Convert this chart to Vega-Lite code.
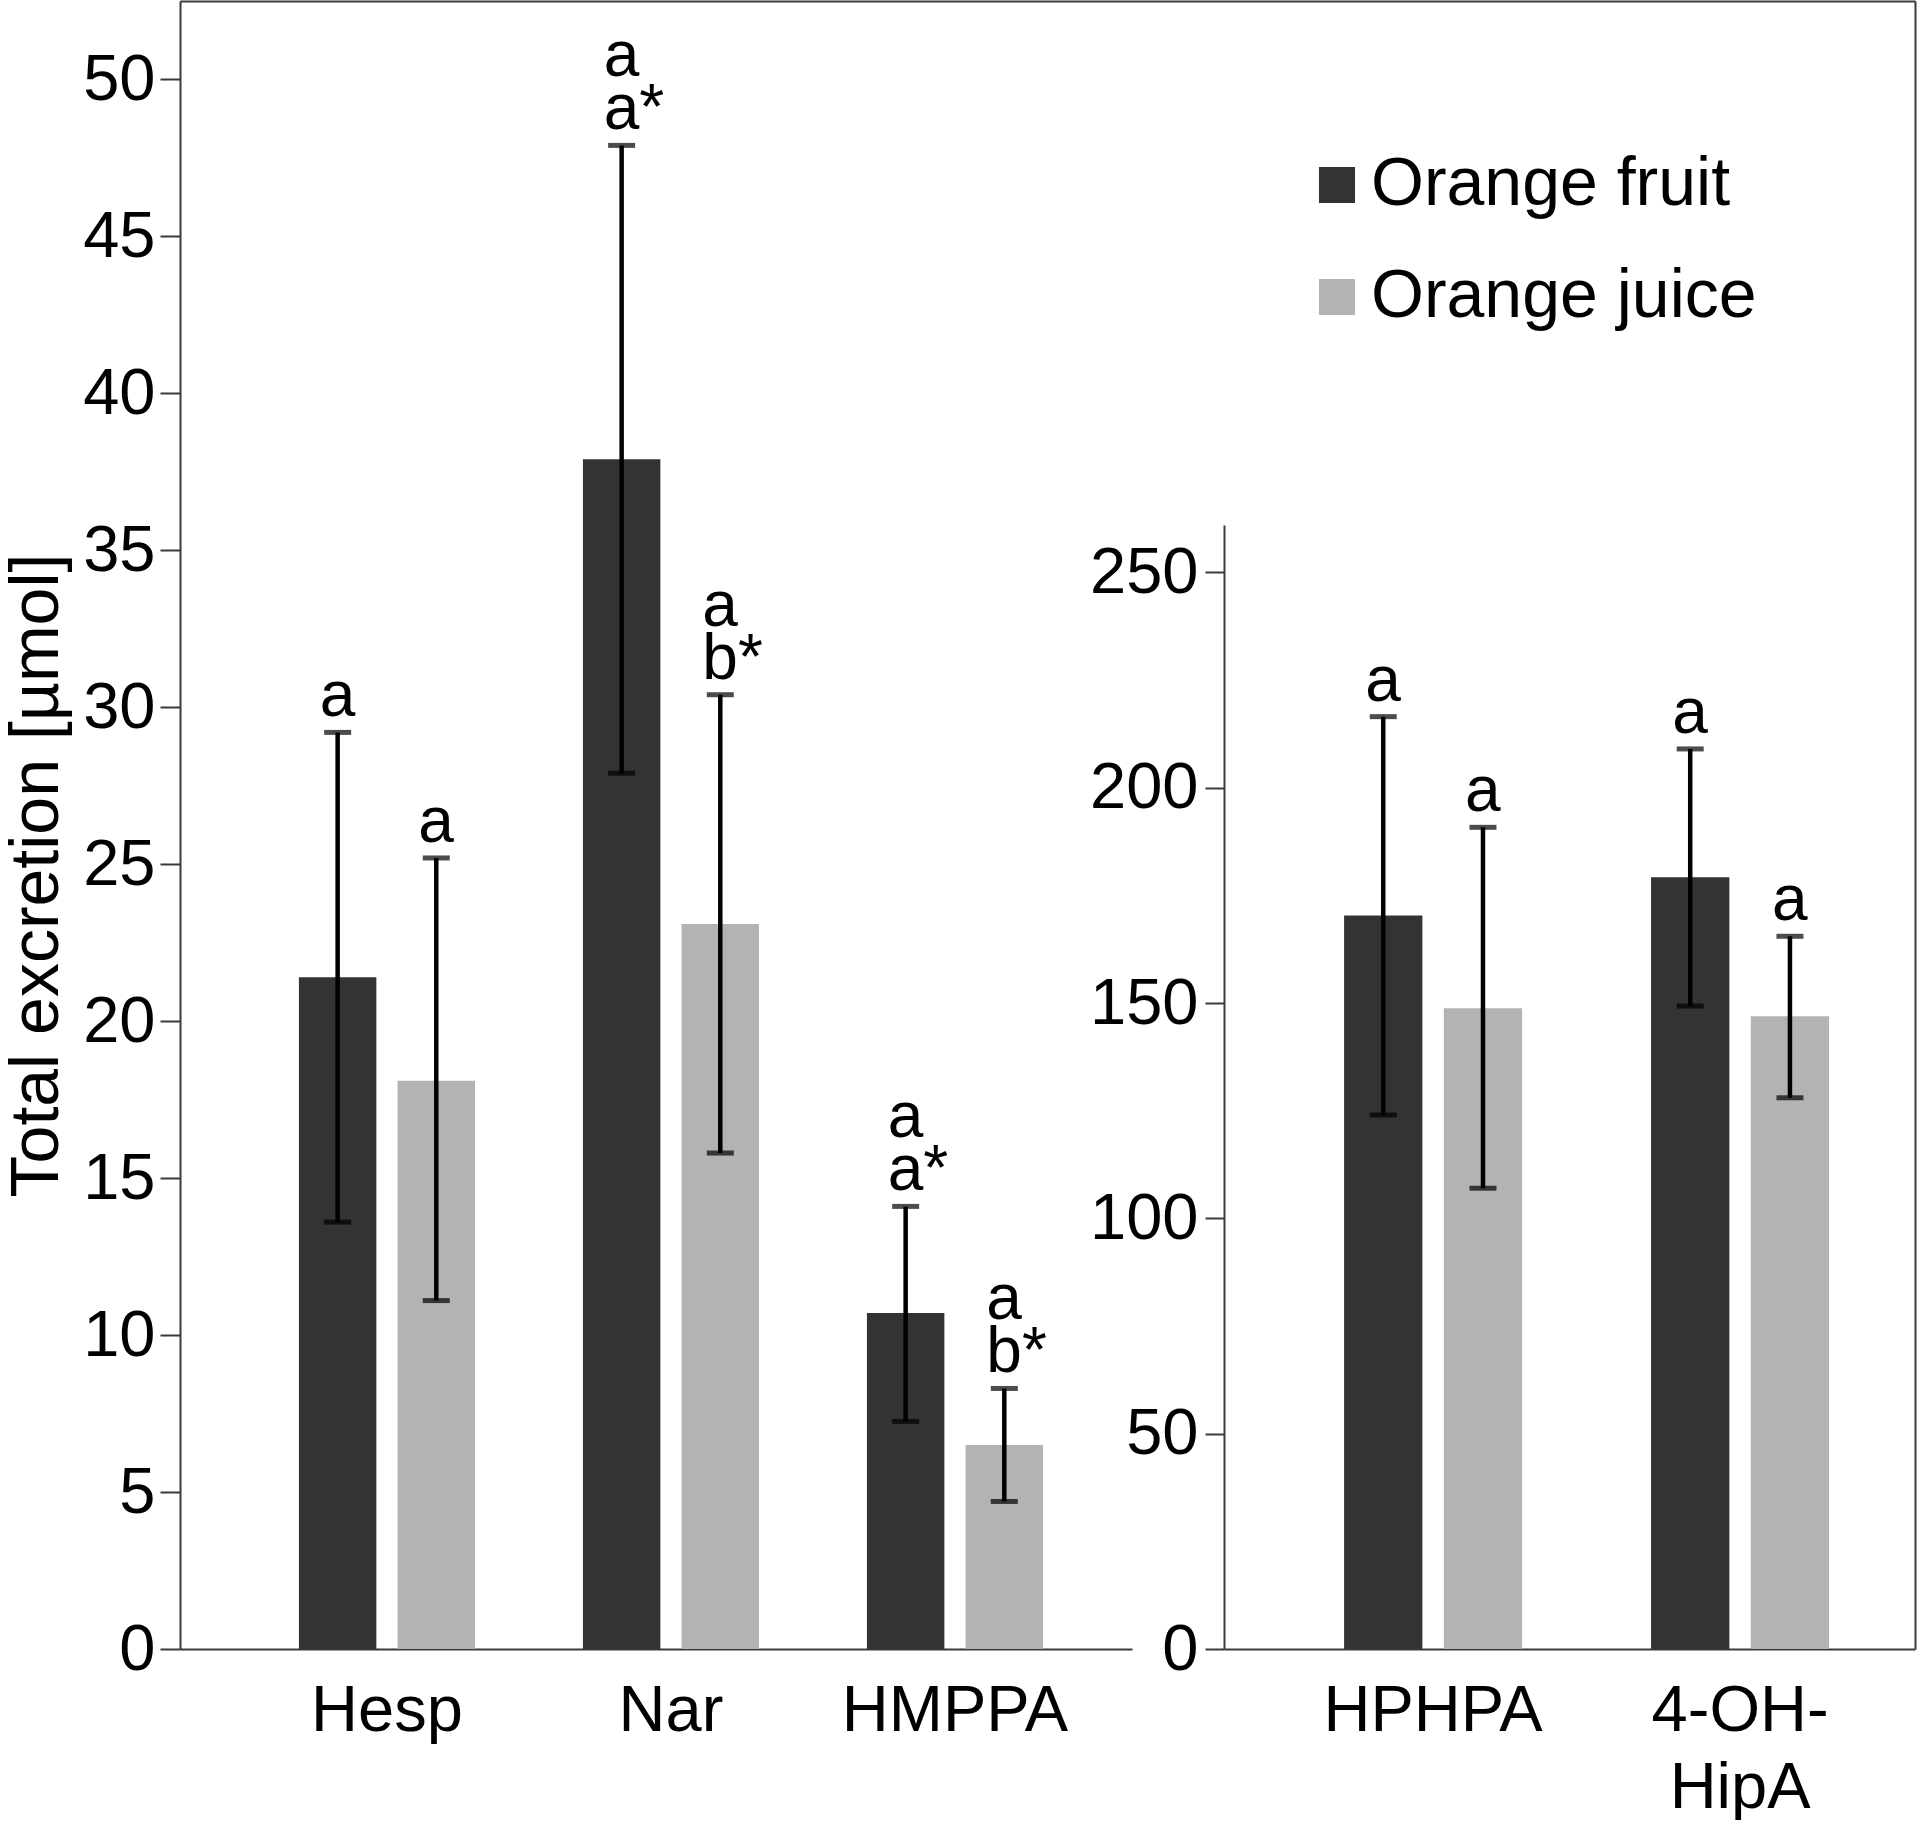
{
  "$schema": "https://vega.github.io/schema/vega-lite/v6.json",
  "width": 1735,
  "height": 1648,
  "padding": {"left": 3, "top": 1, "right": 4, "bottom": 0},
  "background": "white",
  "config": {
    "font": "Liberation Sans",
    "view": {"stroke": null},
    "axis": {"grid": false, "domainColor": "#3a3a3a", "domainWidth": 2, "tickColor": "#3a3a3a", "tickWidth": 2, "labelColor": "black", "titleColor": "black", "labelFont": "Liberation Sans", "titleFont": "Liberation Sans", "labelLimit": 0}
  },
  "data": {
    "values": [
      {"group": "Hesp", "series": "Orange fruit", "value": 21.4, "lo": 13.6, "hi": 29.2, "upper": "", "lower": "a"},
      {"group": "Hesp", "series": "Orange juice", "value": 18.1, "lo": 11.1, "hi": 25.2, "upper": "", "lower": "a"},
      {"group": "Nar", "series": "Orange fruit", "value": 37.9, "lo": 27.9, "hi": 47.9, "upper": "a", "lower": "a*"},
      {"group": "Nar", "series": "Orange juice", "value": 23.1, "lo": 15.8, "hi": 30.4, "upper": "a", "lower": "b*"},
      {"group": "HMPPA", "series": "Orange fruit", "value": 10.7, "lo": 7.25, "hi": 14.1, "upper": "a", "lower": "a*"},
      {"group": "HMPPA", "series": "Orange juice", "value": 6.5, "lo": 4.7, "hi": 8.3, "upper": "a", "lower": "b*"},
      {"group": "HPHPA", "series": "Orange fruit", "value": 170.3, "lo": 124, "hi": 216.5, "upper": "", "lower": "a"},
      {"group": "HPHPA", "series": "Orange juice", "value": 148.8, "lo": 107, "hi": 190.8, "upper": "", "lower": "a"},
      {"group": "4-OH-HipA", "series": "Orange fruit", "value": 179.2, "lo": 149.3, "hi": 209, "upper": "", "lower": "a"},
      {"group": "4-OH-HipA", "series": "Orange juice", "value": 146.9, "lo": 128, "hi": 165.5, "upper": "", "lower": "a"}
    ]
  },
  "layer": [
    {
      "transform": [{"filter": {"field": "group", "oneOf": ["Hesp", "Nar", "HMPPA"]}}],
      "encoding": {
        "x": {
          "field": "group", "type": "nominal", "sort": ["Hesp", "Nar", "HMPPA"],
          "scale": {"range": [0, 952], "paddingInner": 0.38, "paddingOuter": 0.366, "align": 0.572},
          "axis": {"orient": "bottom", "title": null, "ticks": false, "labelAngle": 0, "labelFontSize": 65, "labelPadding": 30}
        },
        "xOffset": {"field": "series", "type": "nominal", "sort": ["Orange fruit", "Orange juice"], "scale": {"paddingInner": 0.215, "paddingOuter": 0}}
      },
      "layer": [
        {
          "mark": {"type": "bar"},
          "encoding": {
            "y": {
              "field": "value", "type": "quantitative",
              "scale": {"domain": [0, 52.5], "nice": false},
              "axis": {"orient": "left", "values": [0, 5, 10, 15, 20, 25, 30, 35, 40, 45, 50], "title": "Total excretion [µmol]", "titleFontSize": 68, "titleFontWeight": "normal", "titlePadding": 11, "titleY": 874, "labelFontSize": 65, "labelPadding": 5, "tickSize": 20}
            },
            "color": {
              "field": "series", "type": "nominal",
              "scale": {"domain": ["Orange fruit", "Orange juice"], "range": ["#333333", "#b3b3b3"]},
              "legend": {"title": null, "orient": "none", "legendX": 1123, "legendY": 150, "symbolType": "square", "symbolSize": 1300, "symbolStrokeWidth": 0, "labelFontSize": 68, "labelOffset": 0, "rowPadding": 44, "padding": 0, "labelColor": "black", "labelLimit": 0}
            }
          }
        },
        {
          "mark": {"type": "rule", "color": "black", "strokeWidth": 4.5},
          "encoding": {
            "y": {"field": "lo", "type": "quantitative", "axis": {"orient": "left", "values": [0, 5, 10, 15, 20, 25, 30, 35, 40, 45, 50], "title": "Total excretion [µmol]", "titleFontSize": 68, "titleFontWeight": "normal", "titlePadding": 11, "titleY": 874, "labelFontSize": 65, "labelPadding": 5, "tickSize": 20}},
            "y2": {"field": "hi"}
          }
        },
        {
          "mark": {"type": "tick", "color": "black", "thickness": 5, "size": 27},
          "encoding": {"y": {"field": "hi", "type": "quantitative", "axis": {"orient": "left", "values": [0, 5, 10, 15, 20, 25, 30, 35, 40, 45, 50], "title": "Total excretion [µmol]", "titleFontSize": 68, "titleFontWeight": "normal", "titlePadding": 11, "titleY": 874, "labelFontSize": 65, "labelPadding": 5, "tickSize": 20}}}
        },
        {
          "mark": {"type": "tick", "color": "black", "thickness": 5, "size": 27},
          "encoding": {"y": {"field": "lo", "type": "quantitative", "axis": {"orient": "left", "values": [0, 5, 10, 15, 20, 25, 30, 35, 40, 45, 50], "title": "Total excretion [µmol]", "titleFontSize": 68, "titleFontWeight": "normal", "titlePadding": 11, "titleY": 874, "labelFontSize": 65, "labelPadding": 5, "tickSize": 20}}}
        },
        {
          "mark": {"type": "text", "align": "left", "baseline": "alphabetic", "dx": -18, "dy": -16, "fontSize": 64, "color": "black"},
          "encoding": {"y": {"field": "hi", "type": "quantitative", "axis": {"orient": "left", "values": [0, 5, 10, 15, 20, 25, 30, 35, 40, 45, 50], "title": "Total excretion [µmol]", "titleFontSize": 68, "titleFontWeight": "normal", "titlePadding": 11, "titleY": 874, "labelFontSize": 65, "labelPadding": 5, "tickSize": 20}}, "text": {"field": "lower"}}
        },
        {
          "mark": {"type": "text", "align": "left", "baseline": "alphabetic", "dx": -18, "dy": -69, "fontSize": 64, "color": "black"},
          "encoding": {"y": {"field": "hi", "type": "quantitative", "axis": {"orient": "left", "values": [0, 5, 10, 15, 20, 25, 30, 35, 40, 45, 50], "title": "Total excretion [µmol]", "titleFontSize": 68, "titleFontWeight": "normal", "titlePadding": 11, "titleY": 874, "labelFontSize": 65, "labelPadding": 5, "tickSize": 20}}, "text": {"field": "upper"}}
        }
      ]
    },
    {
      "transform": [{"filter": {"field": "group", "oneOf": ["HPHPA", "4-OH-HipA"]}}],
      "encoding": {
        "x": {
          "field": "group", "type": "nominal", "sort": ["HPHPA", "4-OH-HipA"],
          "scale": {"range": [1044, 1735], "paddingInner": 0.42, "paddingOuter": 0.3355, "align": 0.583},
          "axis": {"orient": "bottom", "title": null, "ticks": false, "labelAngle": 0, "labelFontSize": 65, "labelPadding": 30, "labelLineHeight": 77, "labelExpr": "datum.label == '4-OH-HipA' ? ['4-OH-', 'HipA'] : datum.label"}
        },
        "xOffset": {"field": "series", "type": "nominal", "sort": ["Orange fruit", "Orange juice"], "scale": {"paddingInner": 0.215, "paddingOuter": 0}}
      },
      "layer": [
        {
          "mark": {"type": "bar"},
          "encoding": {
            "y": {
              "field": "value", "type": "quantitative",
              "scale": {"domain": [0, 261], "nice": false, "range": [1648, 524]},
              "axis": {"orient": "left", "offset": -1044, "values": [0, 50, 100, 150, 200, 250], "title": null, "labelFontSize": 65, "labelPadding": 7, "tickSize": 19}
            },
            "color": {"field": "series", "type": "nominal", "scale": {"domain": ["Orange fruit", "Orange juice"], "range": ["#333333", "#b3b3b3"]}}
          }
        },
        {
          "mark": {"type": "rule", "color": "black", "strokeWidth": 4.5},
          "encoding": {
            "y": {"field": "lo", "type": "quantitative", "axis": {"orient": "left", "offset": -1044, "values": [0, 50, 100, 150, 200, 250], "title": null, "labelFontSize": 65, "labelPadding": 7, "tickSize": 19}},
            "y2": {"field": "hi"}
          }
        },
        {
          "mark": {"type": "tick", "color": "black", "thickness": 5, "size": 27},
          "encoding": {"y": {"field": "hi", "type": "quantitative", "axis": {"orient": "left", "offset": -1044, "values": [0, 50, 100, 150, 200, 250], "title": null, "labelFontSize": 65, "labelPadding": 7, "tickSize": 19}}}
        },
        {
          "mark": {"type": "tick", "color": "black", "thickness": 5, "size": 27},
          "encoding": {"y": {"field": "lo", "type": "quantitative", "axis": {"orient": "left", "offset": -1044, "values": [0, 50, 100, 150, 200, 250], "title": null, "labelFontSize": 65, "labelPadding": 7, "tickSize": 19}}}
        },
        {
          "mark": {"type": "text", "align": "left", "baseline": "alphabetic", "dx": -18, "dy": -16, "fontSize": 64, "color": "black"},
          "encoding": {"y": {"field": "hi", "type": "quantitative", "axis": {"orient": "left", "offset": -1044, "values": [0, 50, 100, 150, 200, 250], "title": null, "labelFontSize": 65, "labelPadding": 7, "tickSize": 19}}, "text": {"field": "lower"}}
        }
      ]
    },
    {
      "mark": {"type": "point", "opacity": 0},
      "encoding": {
        "x": {"datum": 0, "type": "quantitative", "scale": {"domain": [0, 1]}, "axis": {"orient": "top", "labels": false, "ticks": false, "title": null}},
        "y": {"datum": 0, "type": "quantitative", "scale": {"domain": [0, 1]}, "axis": {"orient": "right", "labels": false, "ticks": false, "title": null}}
      }
    }
  ],
  "resolve": {
    "scale": {"x": "independent", "y": "independent", "xOffset": "independent"},
    "axis": {"x": "independent", "y": "independent"}
  }
}
